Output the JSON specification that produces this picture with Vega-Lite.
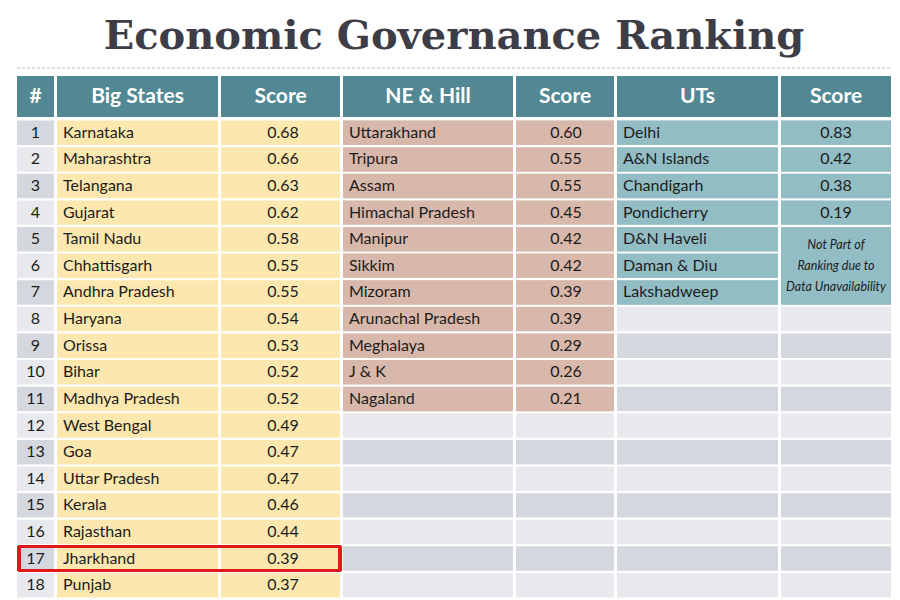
{
  "$schema": "https://vega.github.io/schema/vega-lite/v6.json",
  "padding": {"left": 16, "top": 16, "right": 0, "bottom": 0},
  "background": "white",
  "title": {"text": "Economic Governance Ranking", "font": "DejaVu Serif", "fontSize": 40, "fontWeight": "bold", "color": "#3d3d47", "anchor": "middle", "offset": 11},
  "config": {"view": {"stroke": null}, "text": {"font": "Lato", "fontSize": 16, "color": "#1c1c1c", "baseline": "middle"}},
  "datasets": {
    "big": [
      {"rank": 1, "state": "Karnataka", "score": 0.68},
      {"rank": 2, "state": "Maharashtra", "score": 0.66},
      {"rank": 3, "state": "Telangana", "score": 0.63},
      {"rank": 4, "state": "Gujarat", "score": 0.62},
      {"rank": 5, "state": "Tamil Nadu", "score": 0.58},
      {"rank": 6, "state": "Chhattisgarh", "score": 0.55},
      {"rank": 7, "state": "Andhra Pradesh", "score": 0.55},
      {"rank": 8, "state": "Haryana", "score": 0.54},
      {"rank": 9, "state": "Orissa", "score": 0.53},
      {"rank": 10, "state": "Bihar", "score": 0.52},
      {"rank": 11, "state": "Madhya Pradesh", "score": 0.52},
      {"rank": 12, "state": "West Bengal", "score": 0.49},
      {"rank": 13, "state": "Goa", "score": 0.47},
      {"rank": 14, "state": "Uttar Pradesh", "score": 0.47},
      {"rank": 15, "state": "Kerala", "score": 0.46},
      {"rank": 16, "state": "Rajasthan", "score": 0.44},
      {"rank": 17, "state": "Jharkhand", "score": 0.39},
      {"rank": 18, "state": "Punjab", "score": 0.37}
    ],
    "ne": [
      {"rank": 1, "state": "Uttarakhand", "score": 0.60},
      {"rank": 2, "state": "Tripura", "score": 0.55},
      {"rank": 3, "state": "Assam", "score": 0.55},
      {"rank": 4, "state": "Himachal Pradesh", "score": 0.45},
      {"rank": 5, "state": "Manipur", "score": 0.42},
      {"rank": 6, "state": "Sikkim", "score": 0.42},
      {"rank": 7, "state": "Mizoram", "score": 0.39},
      {"rank": 8, "state": "Arunachal Pradesh", "score": 0.39},
      {"rank": 9, "state": "Meghalaya", "score": 0.29},
      {"rank": 10, "state": "J & K", "score": 0.26},
      {"rank": 11, "state": "Nagaland", "score": 0.21}
    ],
    "ut": [
      {"rank": 1, "state": "Delhi", "score": 0.83},
      {"rank": 2, "state": "A&N Islands", "score": 0.42},
      {"rank": 3, "state": "Chandigarh", "score": 0.38},
      {"rank": 4, "state": "Pondicherry", "score": 0.19},
      {"rank": 5, "state": "D&N Haveli", "score": null},
      {"rank": 6, "state": "Daman & Diu", "score": null},
      {"rank": 7, "state": "Lakshadweep", "score": null}
    ],
    "note": [
      {"rank": 6, "note": ["Not Part of", "Ranking due to", "Data Unavailability"]}
    ]
  },
  "spacing": 3,
  "vconcat": [
    {
      "width": 874, "height": 5,
      "data": {"values": [{"a": 1}]},
      "mark": {"type": "rule", "stroke": "#b9bcc4", "strokeDash": [3, 2], "strokeWidth": 1},
      "encoding": {"x": {"value": 0}, "x2": {"value": "width"}, "y": {"value": 0}}
    },
    {
      "spacing": 3,
      "bounds": "flush",
      "hconcat": [
        {"width": 37, "height": 41, "data": {"values": [{"h": "#"}]}, "layer": [
          {"mark": {"type": "rect", "fill": "#528893"}, "encoding": {"x": {"value": 0}, "x2": {"value": "width"}, "y": {"value": 0}, "y2": {"value": "height"}}},
          {"mark": {"type": "text", "fill": "white", "fontWeight": "bold", "fontSize": 21, "align": "center"}, "encoding": {"text": {"field": "h"}, "x": {"value": 18.5}, "y": {"value": 21}}}
        ]},
        {"width": 161, "height": 41, "data": {"values": [{"h": "Big States"}]}, "layer": [
          {"mark": {"type": "rect", "fill": "#528893"}, "encoding": {"x": {"value": 0}, "x2": {"value": "width"}, "y": {"value": 0}, "y2": {"value": "height"}}},
          {"mark": {"type": "text", "fill": "white", "fontWeight": "bold", "fontSize": 21, "align": "center"}, "encoding": {"text": {"field": "h"}, "x": {"value": 80.5}, "y": {"value": 21}}}
        ]},
        {"width": 119, "height": 41, "data": {"values": [{"h": "Score"}]}, "layer": [
          {"mark": {"type": "rect", "fill": "#528893"}, "encoding": {"x": {"value": 0}, "x2": {"value": "width"}, "y": {"value": 0}, "y2": {"value": "height"}}},
          {"mark": {"type": "text", "fill": "white", "fontWeight": "bold", "fontSize": 21, "align": "center"}, "encoding": {"text": {"field": "h"}, "x": {"value": 59.5}, "y": {"value": 21}}}
        ]},
        {"width": 170, "height": 41, "data": {"values": [{"h": "NE & Hill"}]}, "layer": [
          {"mark": {"type": "rect", "fill": "#528893"}, "encoding": {"x": {"value": 0}, "x2": {"value": "width"}, "y": {"value": 0}, "y2": {"value": "height"}}},
          {"mark": {"type": "text", "fill": "white", "fontWeight": "bold", "fontSize": 21, "align": "center"}, "encoding": {"text": {"field": "h"}, "x": {"value": 85}, "y": {"value": 21}}}
        ]},
        {"width": 98, "height": 41, "data": {"values": [{"h": "Score"}]}, "layer": [
          {"mark": {"type": "rect", "fill": "#528893"}, "encoding": {"x": {"value": 0}, "x2": {"value": "width"}, "y": {"value": 0}, "y2": {"value": "height"}}},
          {"mark": {"type": "text", "fill": "white", "fontWeight": "bold", "fontSize": 21, "align": "center"}, "encoding": {"text": {"field": "h"}, "x": {"value": 49}, "y": {"value": 21}}}
        ]},
        {"width": 161, "height": 41, "data": {"values": [{"h": "UTs"}]}, "layer": [
          {"mark": {"type": "rect", "fill": "#528893"}, "encoding": {"x": {"value": 0}, "x2": {"value": "width"}, "y": {"value": 0}, "y2": {"value": "height"}}},
          {"mark": {"type": "text", "fill": "white", "fontWeight": "bold", "fontSize": 21, "align": "center"}, "encoding": {"text": {"field": "h"}, "x": {"value": 80.5}, "y": {"value": 21}}}
        ]},
        {"width": 110, "height": 41, "data": {"values": [{"h": "Score"}]}, "layer": [
          {"mark": {"type": "rect", "fill": "#528893"}, "encoding": {"x": {"value": 0}, "x2": {"value": "width"}, "y": {"value": 0}, "y2": {"value": "height"}}},
          {"mark": {"type": "text", "fill": "white", "fontWeight": "bold", "fontSize": 21, "align": "center"}, "encoding": {"text": {"field": "h"}, "x": {"value": 55}, "y": {"value": 21}}}
        ]}
      ]
    },
    {
      "spacing": 3,
      "bounds": "flush",
      "hconcat": [
        {"width": 37, "height": 478, "data": {"name": "big"},
          "encoding": {"y": {"field": "rank", "type": "ordinal", "axis": null, "scale": {"domain": [1,2,3,4,5,6,7,8,9,10,11,12,13,14,15,16,17,18], "paddingInner": 0.08, "paddingOuter": 0.02}}},
          "layer": [
            {"mark": {"type": "rect"}, "encoding": {"x": {"value": 0}, "x2": {"value": "width"}, "fill": {"condition": {"test": "datum.rank % 2 == 1", "value": "#d4d7dd"}, "value": "#e8e9ec"}}},
            {"mark": {"type": "text", "align": "center"}, "encoding": {"text": {"field": "rank"}, "x": {"value": 18.5}}},
            {"mark": {"type": "rule", "stroke": "#e0191b", "strokeWidth": 2.5}, "encoding": {"y": {"datum": 17, "type": "ordinal", "bandPosition": 0}, "x": {"value": 1}, "x2": {"value": 40}}},
            {"mark": {"type": "rule", "stroke": "#e0191b", "strokeWidth": 2.5}, "encoding": {"y": {"datum": 17, "type": "ordinal", "bandPosition": 1}, "x": {"value": 1}, "x2": {"value": 40}}},
            {"mark": {"type": "rule", "stroke": "#e0191b", "strokeWidth": 2.5}, "encoding": {"y": {"datum": 17, "type": "ordinal", "bandPosition": 0}, "y2": {"datum": 17, "bandPosition": 1}, "x": {"value": 2}}}
          ]
        },
        {"width": 161, "height": 478, "data": {"name": "big"},
          "encoding": {"y": {"field": "rank", "type": "ordinal", "axis": null, "scale": {"domain": [1,2,3,4,5,6,7,8,9,10,11,12,13,14,15,16,17,18], "paddingInner": 0.08, "paddingOuter": 0.02}}},
          "layer": [
            {"mark": {"type": "rect", "fill": "#fce8ae"}, "encoding": {"x": {"value": 0}, "x2": {"value": "width"}}},
            {"mark": {"type": "text", "align": "left"}, "encoding": {"text": {"field": "state"}, "x": {"value": 6}}},
            {"mark": {"type": "rule", "stroke": "#e0191b", "strokeWidth": 2.5}, "encoding": {"y": {"datum": 17, "type": "ordinal", "bandPosition": 0}, "x": {"value": 0}, "x2": {"value": 164}}},
            {"mark": {"type": "rule", "stroke": "#e0191b", "strokeWidth": 2.5}, "encoding": {"y": {"datum": 17, "type": "ordinal", "bandPosition": 1}, "x": {"value": 0}, "x2": {"value": 164}}}
          ]
        },
        {"width": 119, "height": 478, "data": {"name": "big"},
          "encoding": {"y": {"field": "rank", "type": "ordinal", "axis": null, "scale": {"domain": [1,2,3,4,5,6,7,8,9,10,11,12,13,14,15,16,17,18], "paddingInner": 0.08, "paddingOuter": 0.02}}},
          "layer": [
            {"mark": {"type": "rect", "fill": "#fce8ae"}, "encoding": {"x": {"value": 0}, "x2": {"value": "width"}}},
            {"mark": {"type": "text", "align": "center"}, "encoding": {"text": {"field": "score", "type": "quantitative", "format": ".2f"}, "x": {"value": 62}}},
            {"mark": {"type": "rule", "stroke": "#e0191b", "strokeWidth": 2.5}, "encoding": {"y": {"datum": 17, "type": "ordinal", "bandPosition": 0}, "x": {"value": 0}, "x2": {"value": 120}}},
            {"mark": {"type": "rule", "stroke": "#e0191b", "strokeWidth": 2.5}, "encoding": {"y": {"datum": 17, "type": "ordinal", "bandPosition": 1}, "x": {"value": 0}, "x2": {"value": 120}}},
            {"mark": {"type": "rule", "stroke": "#e0191b", "strokeWidth": 2.5}, "encoding": {"y": {"datum": 17, "type": "ordinal", "bandPosition": 0}, "y2": {"datum": 17, "bandPosition": 1}, "x": {"value": 119}}}
          ]
        },
        {"width": 170, "height": 478,
          "encoding": {"y": {"field": "rank", "type": "ordinal", "axis": null, "scale": {"domain": [1,2,3,4,5,6,7,8,9,10,11,12,13,14,15,16,17,18], "paddingInner": 0.08, "paddingOuter": 0.02}}},
          "layer": [
            {"data": {"name": "big"}, "mark": {"type": "rect"}, "encoding": {"x": {"value": 0}, "x2": {"value": "width"}, "fill": {"condition": {"test": "datum.rank % 2 == 1", "value": "#d4d7dd"}, "value": "#e8e9ec"}}},
            {"data": {"name": "ne"}, "mark": {"type": "rect", "fill": "#d8b8aa"}, "encoding": {"x": {"value": 0}, "x2": {"value": "width"}}},
            {"data": {"name": "ne"}, "mark": {"type": "text", "align": "left"}, "encoding": {"text": {"field": "state"}, "x": {"value": 6}}}
          ]
        },
        {"width": 98, "height": 478,
          "encoding": {"y": {"field": "rank", "type": "ordinal", "axis": null, "scale": {"domain": [1,2,3,4,5,6,7,8,9,10,11,12,13,14,15,16,17,18], "paddingInner": 0.08, "paddingOuter": 0.02}}},
          "layer": [
            {"data": {"name": "big"}, "mark": {"type": "rect"}, "encoding": {"x": {"value": 0}, "x2": {"value": "width"}, "fill": {"condition": {"test": "datum.rank % 2 == 1", "value": "#d4d7dd"}, "value": "#e8e9ec"}}},
            {"data": {"name": "ne"}, "mark": {"type": "rect", "fill": "#d8b8aa"}, "encoding": {"x": {"value": 0}, "x2": {"value": "width"}}},
            {"data": {"name": "ne"}, "mark": {"type": "text", "align": "center"}, "encoding": {"text": {"field": "score", "type": "quantitative", "format": ".2f"}, "x": {"value": 50}}}
          ]
        },
        {"width": 161, "height": 478,
          "encoding": {"y": {"field": "rank", "type": "ordinal", "axis": null, "scale": {"domain": [1,2,3,4,5,6,7,8,9,10,11,12,13,14,15,16,17,18], "paddingInner": 0.08, "paddingOuter": 0.02}}},
          "layer": [
            {"data": {"name": "big"}, "mark": {"type": "rect"}, "encoding": {"x": {"value": 0}, "x2": {"value": "width"}, "fill": {"condition": {"test": "datum.rank % 2 == 1", "value": "#d4d7dd"}, "value": "#e8e9ec"}}},
            {"data": {"name": "ut"}, "mark": {"type": "rect", "fill": "#93bdc5"}, "encoding": {"x": {"value": 0}, "x2": {"value": "width"}}},
            {"data": {"name": "ut"}, "mark": {"type": "text", "align": "left"}, "encoding": {"text": {"field": "state"}, "x": {"value": 6}}}
          ]
        },
        {"width": 110, "height": 478,
          "encoding": {"y": {"field": "rank", "type": "ordinal", "axis": null, "scale": {"domain": [1,2,3,4,5,6,7,8,9,10,11,12,13,14,15,16,17,18], "paddingInner": 0.08, "paddingOuter": 0.02}}},
          "layer": [
            {"data": {"name": "big"}, "mark": {"type": "rect"}, "encoding": {"x": {"value": 0}, "x2": {"value": "width"}, "fill": {"condition": {"test": "datum.rank % 2 == 1", "value": "#d4d7dd"}, "value": "#e8e9ec"}}},
            {"data": {"name": "ut"}, "transform": [{"filter": "datum.score != null"}], "mark": {"type": "rect", "fill": "#93bdc5"}, "encoding": {"x": {"value": 0}, "x2": {"value": "width"}}},
            {"data": {"name": "ut"}, "transform": [{"filter": "datum.score != null"}], "mark": {"type": "text", "align": "center"}, "encoding": {"text": {"field": "score", "type": "quantitative", "format": ".2f"}, "x": {"value": 55}}},
            {"data": {"name": "note"}, "mark": {"type": "rect", "fill": "#93bdc5"}, "encoding": {"y": {"datum": 5, "type": "ordinal", "bandPosition": 0}, "y2": {"datum": 7, "bandPosition": 1}, "x": {"value": 0}, "x2": {"value": "width"}}},
            {"data": {"name": "note"}, "mark": {"type": "text", "align": "center", "fontStyle": "italic", "fontSize": 12.5, "lineHeight": 21, "dy": -21}, "encoding": {"text": {"field": "note"}, "x": {"value": 55}}}
          ]
        }
      ]
    }
  ]
}
